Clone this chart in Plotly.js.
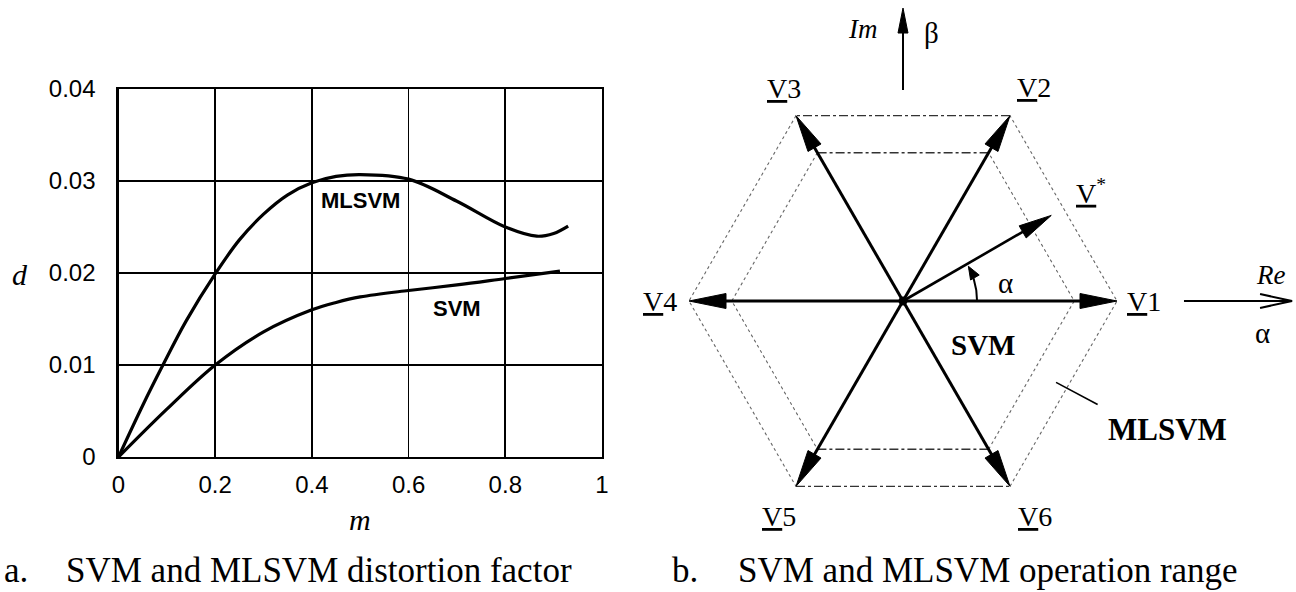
<!DOCTYPE html>
<html><head><meta charset="utf-8">
<script src="https://cdn.plot.ly/plotly-3.0.1.min.js"></script>
<style>html,body{margin:0;padding:0;background:#fff}</style>
</head><body>
<div id="chart" style="width:1296px;height:592px"></div>
<script>
// ---------- panel a: distortion factor ----------
const mValuesMLSVM = [0, 0.05, 0.09, 0.14, 0.2, 0.25, 0.3, 0.35, 0.4, 0.45, 0.5, 0.6, 0.7, 0.8, 0.865, 0.9, 0.93];
const dValuesMLSVM = [0, 0.0056, 0.0098, 0.0148, 0.0199, 0.0236, 0.0264, 0.0285, 0.0298, 0.0305, 0.0307, 0.0302, 0.0278, 0.0250, 0.0240, 0.0243, 0.0251];
const mValuesSVM = [0, 0.1, 0.2, 0.3, 0.4, 0.45, 0.5, 0.6, 0.7, 0.8, 0.913];
const dValuesSVM = [0, 0.0052, 0.0100, 0.0136, 0.0160, 0.0168, 0.0174, 0.0181, 0.0187, 0.0194, 0.0202];
const xTickVals = [0, 0.2, 0.4, 0.6, 0.8, 1];
const xTickText = ['0', '0.2', '0.4', '0.6', '0.8', '1'];
const yTickVals = [0, 0.01, 0.02, 0.03, 0.04];
const yTickText = ['0', '0.01', '0.02', '0.03', '0.04'];

// ---------- panel b: vector diagram ----------
const vectorNames = ['V1', 'V2', 'V3', 'V4', 'V5', 'V6'];
const vectorAngles = [0, 60, 120, 180, 240, 300];
const outerRadius = 1.0;
const innerRadius = 0.8;
const refAngle = 30;
const refMagnitude = 0.8;
const alphaArcAngles = [0, 30];
const alphaArcRadius = 0.346;
const reAxisSpan = [1.313, 1.818];
const imAxisSpan = [0.986, 1.369];
const mlsvmPointerAngle = -28;
const mlsvmPointerSpan = [0.81, 1.03];

const U = 214; // pixels per unit in panel b
const SERIF = 'Liberation Serif, Times New Roman, serif';
const SANS = 'Liberation Sans, Arial, sans-serif';
const rad = a => a * Math.PI / 180;
const pt = (r, a) => [r * Math.cos(rad(a)), r * Math.sin(rad(a))];

const traces = [];
traces.push({x: mValuesMLSVM, y: dValuesMLSVM, mode: 'lines', name: 'MLSVM',
  line: {color: '#000', width: 3.2, shape: 'spline', smoothing: 1}, xaxis: 'x', yaxis: 'y', hoverinfo: 'skip'});
traces.push({x: mValuesSVM, y: dValuesSVM, mode: 'lines', name: 'SVM',
  line: {color: '#000', width: 3.2, shape: 'spline', smoothing: 1}, xaxis: 'x', yaxis: 'y', hoverinfo: 'skip'});

function addLine(xs, ys, width, dash, color) {
  traces.push({x: xs, y: ys, mode: 'lines', line: {color: color, width: width, dash: dash},
    xaxis: 'x2', yaxis: 'y2', hoverinfo: 'skip', showlegend: false});
}
function addHead(tip, a, lenPx, halfPx) {
  const L = lenPx / U, H = halfPx / U;
  const c = Math.cos(rad(a)), s = Math.sin(rad(a));
  const bx = tip[0] - L * c, by = tip[1] - L * s;
  traces.push({x: [tip[0], bx - H * s, bx + H * s, tip[0]], y: [tip[1], by + H * c, by - H * c, tip[1]],
    mode: 'lines', fill: 'toself', fillcolor: '#000', line: {color: '#000', width: 1},
    xaxis: 'x2', yaxis: 'y2', hoverinfo: 'skip', showlegend: false});
}
function addVector(r, a, width, headLen, headHalf) {
  const tip = pt(r, a);
  const base = pt(r - 0.8 * headLen / U, a);
  addLine([0, base[0]], [0, base[1]], width, 'solid', '#000');
  addHead(tip, a, headLen, headHalf);
}
function addHexagon(r) {
  const v = vectorAngles.map(a => pt(r, a));
  addLine([v[1][0], v[2][0], null, v[4][0], v[5][0]], [v[1][1], v[2][1], null, v[4][1], v[5][1]], 1.3, 'dashdot', '#333');
  addLine([v[2][0], v[3][0], v[4][0], null, v[5][0], v[0][0], v[1][0]],
          [v[2][1], v[3][1], v[4][1], null, v[5][1], v[0][1], v[1][1]], 1.1, 'dot', '#666');
}
addHexagon(outerRadius);
addHexagon(innerRadius);
vectorAngles.forEach(a => addVector(outerRadius, a, 3, 37, 7.5));
addVector(refMagnitude, refAngle, 2.6, 33, 7);

// alpha arc
const arcX = [], arcY = [];
for (let a = alphaArcAngles[0]; a <= alphaArcAngles[1] - 4; a += 1) { const p = pt(alphaArcRadius, a); arcX.push(p[0]); arcY.push(p[1]); }
addLine(arcX, arcY, 2, 'solid', '#000');
addHead(pt(alphaArcRadius, alphaArcAngles[1] - 2), alphaArcAngles[1] + 90, 13, 5);

// Im axis arrow
addLine([0, 0], [imAxisSpan[0], imAxisSpan[1] - 18 / U], 2, 'solid', '#000');
addHead([0, imAxisSpan[1]], 90, 25, 5);
// Re axis arrow (barbed, line drawn)
addLine([reAxisSpan[0], reAxisSpan[1]], [0, 0], 2, 'solid', '#000');
addLine([reAxisSpan[1] - 32 / U, reAxisSpan[1], reAxisSpan[1] - 32 / U], [7 / U, 0, -7 / U], 2, 'solid', '#000');

// center dot
traces.push({x: [0], y: [0], mode: 'markers', marker: {color: '#000', size: 9},
  xaxis: 'x2', yaxis: 'y2', hoverinfo: 'skip', showlegend: false});

// MLSVM pointer
const pp0 = pt(mlsvmPointerSpan[0], mlsvmPointerAngle), pp1 = pt(mlsvmPointerSpan[1], mlsvmPointerAngle);
addLine([pp0[0], pp1[0]], [pp0[1], pp1[1]], 1.6, 'solid', '#000');

// ---------- annotations ----------
const ann = [];
function note(o) { ann.push(Object.assign({showarrow: false, xanchor: 'center', yanchor: 'middle'}, o)); }
const labelShift = [[27, 0], [24, 28], [-12, 27], [-29, 0], [-17, -30], [25, -30]];
vectorNames.forEach((n, i) => {
  const p = pt(outerRadius, vectorAngles[i]);
  note({x: p[0], y: p[1], xref: 'x2', yref: 'y2', xshift: labelShift[i][0], yshift: labelShift[i][1],
    text: '<u>V</u>' + n.slice(1), font: {family: SERIF, size: 28, color: '#000'}});
});
const rp = pt(refMagnitude, refAngle);
note({x: rp[0], y: rp[1], xref: 'x2', yref: 'y2', xshift: 40, yshift: 24,
  text: '<u>V</u><sup>*</sup>', font: {family: SERIF, size: 28, color: '#000'}});
note({x: 0, y: imAxisSpan[1], xref: 'x2', yref: 'y2', xshift: -40, yshift: -21,
  text: '<i>Im</i>', font: {family: SERIF, size: 27, color: '#000'}});
note({x: 0, y: imAxisSpan[1], xref: 'x2', yref: 'y2', xshift: 28, yshift: -25,
  text: 'β', font: {family: SERIF, size: 29, color: '#000'}});
note({x: reAxisSpan[1], y: 0, xref: 'x2', yref: 'y2', xshift: -22, yshift: 26,
  text: '<i>Re</i>', font: {family: SERIF, size: 27, color: '#000'}});
note({x: reAxisSpan[1], y: 0, xref: 'x2', yref: 'y2', xshift: -30, yshift: -32,
  text: 'α', font: {family: SERIF, size: 29, color: '#000'}});
note({x: 0, y: 0, xref: 'x2', yref: 'y2', xshift: 102, yshift: 18,
  text: 'α', font: {family: SERIF, size: 29, color: '#000'}});
note({x: 0, y: 0, xref: 'x2', yref: 'y2', xshift: 80, yshift: -44,
  text: '<b>SVM</b>', font: {family: SERIF, size: 29, color: '#000'}});
note({x: 0, y: 0, xref: 'x2', yref: 'y2', xshift: 264, yshift: -128,
  text: '<b>MLSVM</b>', font: {family: SERIF, size: 31, color: '#000'}});

// panel a labels
note({x: 0.5, y: 0.0279, xref: 'x', yref: 'y', text: '<b>MLSVM</b>', font: {family: SANS, size: 22, color: '#000'}});
note({x: 0.70, y: 0.0161, xref: 'x', yref: 'y', text: '<b>SVM</b>', font: {family: SANS, size: 22, color: '#000'}});
note({x: 20 / 1296, y: 1 - 275 / 592, xref: 'paper', yref: 'paper', text: '<i>d</i>', font: {family: SERIF, size: 30, color: '#000'}});
note({x: 360 / 1296, y: 1 - 519 / 592, xref: 'paper', yref: 'paper', text: '<i>m</i>', font: {family: SERIF, size: 30, color: '#000'}});

// captions
const capY = 1 - 570 / 592;
note({x: 2 / 1296, y: capY, xref: 'paper', yref: 'paper', xanchor: 'left', text: 'a.', font: {family: SERIF, size: 35, color: '#000'}});
note({x: 64 / 1296, y: capY, xref: 'paper', yref: 'paper', xanchor: 'left', text: 'SVM and MLSVM distortion factor', font: {family: SERIF, size: 35, color: '#000'}});
note({x: 670 / 1296, y: capY, xref: 'paper', yref: 'paper', xanchor: 'left', text: 'b.', font: {family: SERIF, size: 35, color: '#000'}});
note({x: 736 / 1296, y: capY, xref: 'paper', yref: 'paper', xanchor: 'left', text: 'SVM and MLSVM operation range', font: {family: SERIF, size: 35, color: '#000'}});

const cx = 903, cy = 301;
const layout = {
  width: 1296, height: 592, autosize: false,
  margin: {l: 0, r: 0, t: 0, b: 0},
  paper_bgcolor: '#fff', plot_bgcolor: '#fff',
  showlegend: false, hovermode: false,
  xaxis: {domain: [118.5 / 1296, 602 / 1296], range: [0, 1], tickvals: xTickVals, ticktext: xTickText,
    showgrid: true, gridcolor: '#000', gridwidth: 1.6, zeroline: false,
    showline: true, mirror: true, linecolor: '#000', linewidth: 2.2, ticks: '',
    ticklabelstandoff: 5, tickfont: {family: SANS, size: 24, color: '#000'}, fixedrange: true},
  yaxis: {domain: [1 - 457 / 592, 1 - 89 / 592], range: [0, 0.04], tickvals: yTickVals, ticktext: yTickText,
    showgrid: true, gridcolor: '#000', gridwidth: 1.6, zeroline: false,
    showline: true, mirror: true, linecolor: '#000', linewidth: 2.2, ticks: '',
    ticklabelstandoff: 16, tickfont: {family: SANS, size: 24, color: '#000'}, fixedrange: true},
  xaxis2: {domain: [0.5, 1], range: [-(cx - 648) / U, (1296 - cx) / U], visible: false, fixedrange: true, anchor: 'y2'},
  yaxis2: {domain: [0, 1], range: [-(592 - cy) / U, cy / U], visible: false, fixedrange: true, anchor: 'x2'},
  annotations: ann
};
Plotly.newPlot('chart', traces, layout, {staticPlot: true, displayModeBar: false});
</script>
</body></html>
